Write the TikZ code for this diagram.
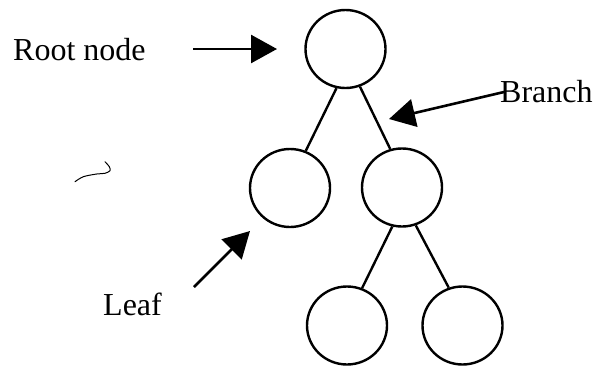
\documentclass[tikz,border=0pt]{standalone}
\usepackage{fontspec}
\setmainfont{Liberation Serif}
\usetikzlibrary{arrows.meta,shapes.geometric}
\begin{document}
\begin{tikzpicture}[x=1pt,y=-1pt,
  treenode/.style={draw,ellipse,line width=2.4pt,minimum width=80pt,minimum height=78pt,inner sep=0pt},
  branchline/.style={line width=2.4pt},
  pointer/.style={line width=2.6pt,-{Triangle[length=26pt,width=28pt]}},
  label/.style={inner sep=0pt,anchor=base west,font=\fontsize{32pt}{38pt}\selectfont}]
\useasboundingbox (0,0) rectangle (594,367);

% tree
\node[treenode] (root) at (345.5,49) {};
\node[treenode] (left) at (290,188) {};
\node[treenode] (right) at (402,187.5) {};
\node[treenode] (rl) at (347,325.5) {};
\node[treenode] (rr) at (462.5,325.5) {};

\draw[branchline] (root.257) -- (left.67);
\draw[branchline] (root.291) -- (right.107);
\draw[branchline] (right.256) -- (rl.68);
\draw[branchline] (right.290) -- (rr.110);

% labels
\node[label] (rootlbl) at (13,60) {Root node};
\node[label] (branchlbl) at (500,102) {Branch};
\node[label] (leaflbl) at (103,315) {Leaf};

% pointers
\coordinate (roottail) at (193,49);
\coordinate (roottip) at (277,49);
\coordinate (branchtail) at (504,92);
\coordinate (branchtip) at (389,119);
\coordinate (leaftail) at (194,287);
\coordinate (leaftip) at (250,231);
\draw[pointer] (roottail) -- (roottip);
\draw[pointer] (branchtail) -- (branchtip);
\draw[pointer] (leaftail) -- (leaftip);

% pen stroke
\draw[line width=1pt,line cap=round] plot[smooth] coordinates {(75,181.7) (83.3,176.7) (96.7,174) (105,173.3) (110,170.7) (109.3,166.7) (105,161.7)};
\end{tikzpicture}
\end{document}
